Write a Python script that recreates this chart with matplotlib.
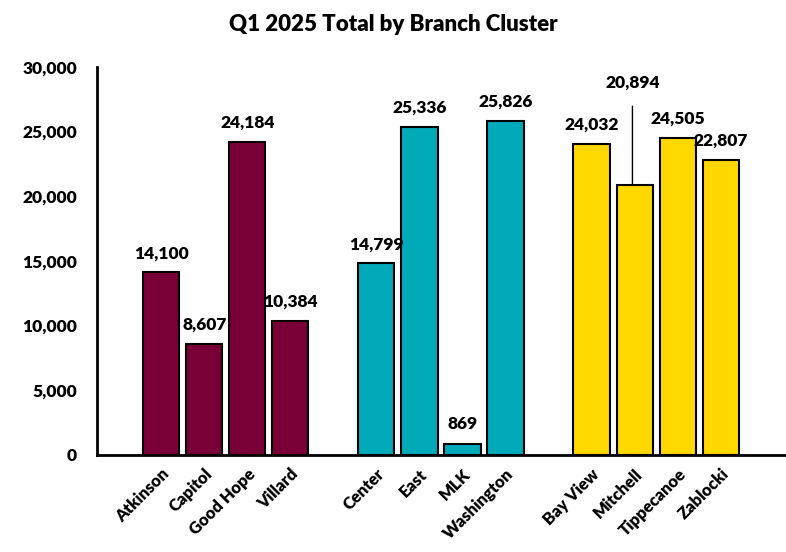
import matplotlib.pyplot as plt

plt.rcParams['font.family'] = ['Lato', 'DejaVu Sans']

# categories (blank slots separate the clusters)
branches = ['', 'Atkinson', 'Capitol', 'Good Hope', 'Villard', '',
            'Center', 'East', 'MLK', 'Washington', '',
            'Bay View', 'Mitchell', 'Tippecanoe', 'Zablocki', '']
totals = [None, 14100, 8607, 24184, 10384, None,
          14799, 25336, 869, 25826, None,
          24032, 20894, 24505, 22807, None]
cluster = [None, 'A', 'A', 'A', 'A', None,
           'B', 'B', 'B', 'B', None,
           'C', 'C', 'C', 'C', None]
cluster_colors = {'A': '#780037', 'B': '#00AAB8', 'C': '#FFD800'}

fig = plt.figure(figsize=(7.86, 5.52), dpi=100)
ax = fig.add_axes([0.123, 0.176, 0.876, 0.703])

for i, (name, val, c) in enumerate(zip(branches, totals, cluster)):
    if val is None:
        continue
    ax.bar(i, val, width=0.84, color=cluster_colors[c], edgecolor='black', linewidth=1.5)
    label = f'{val:,}'
    if name == 'Mitchell':
        ax.annotate(label, xy=(i - 0.05, val), xytext=(i - 0.05, 28750),
                    ha='center', va='center', fontsize=12.5, fontweight='heavy',
                    arrowprops=dict(arrowstyle='-', color='black', lw=1,
                                    shrinkA=9, shrinkB=0))
    else:
        ax.annotate(label, xy=(i, val), xytext=(0, 8), textcoords='offset points',
                    ha='center', va='bottom', fontsize=12.5, fontweight='heavy')

ax.set_xlim(-0.5, len(branches) - 0.5)
ax.set_ylim(0, 30000)
ax.set_yticks(range(0, 30001, 5000))
ax.set_yticklabels([f'{v:,}' for v in range(0, 30001, 5000)], fontsize=12.5, fontweight='heavy')
ax.set_xticks(range(len(branches)))
ax.set_xticklabels(branches, rotation=45, ha='right', rotation_mode='anchor',
                   fontsize=12, fontweight='heavy')
ax.tick_params(axis='y', length=0, pad=14)
ax.tick_params(axis='x', length=0, pad=8)

for side in ['top', 'right']:
    ax.spines[side].set_visible(False)
for side in ['left', 'bottom']:
    ax.spines[side].set_linewidth(2)

fig.suptitle('Q1 2025 Total by Branch Cluster', fontsize=16, fontweight='heavy', y=0.975)

fig.savefig('out.png', dpi=100)
